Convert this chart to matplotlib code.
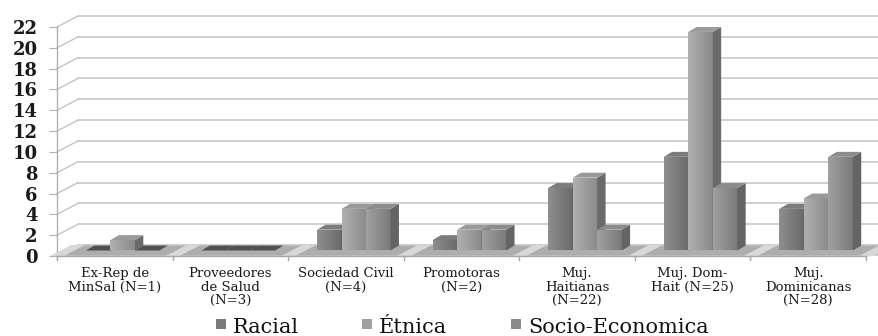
import numpy as np
import matplotlib
matplotlib.use("Agg")
import matplotlib.pyplot as plt
from matplotlib.patches import Polygon, Rectangle

categories = ["Ex-Rep de\nMinSal (N=1)", "Proveedores\nde Salud\n(N=3)",
              "Sociedad Civil\n(N=4)", "Promotoras\n(N=2)",
              "Muj.\nHaitianas\n(N=22)", "Muj. Dom-\nHait (N=25)",
              "Muj.\nDominicanas\n(N=28)"]
series = ["Racial", "Étnica", "Socio-Economica"]
racial = [0, 0, 2, 1, 6, 9, 4]
etnica = [1, 0, 4, 2, 7, 21, 5]
socio = [0, 0, 4, 2, 2, 6, 9]
values = [racial, etnica, socio]
yticks = list(range(0, 23, 2))

W, H = 879, 336
fig = plt.figure(figsize=(W / 100, H / 100), dpi=100)
ax = fig.add_axes([57 / W, 80 / H, 809 / W, 229 / H])
ncat = len(categories)
ax.set_xlim(0, ncat)
ax.set_ylim(0, 22)
for s in ax.spines.values():
    s.set_visible(False)

# depth of the chart in data units
pxx = 809 / ncat
pxy = 229 / 22
DX, DY = 21 / pxx, 11 / pxy

serif = "DejaVu Serif"

# back wall gridlines + side wall diagonals
for v in yticks:
    ax.plot([DX, ncat + DX + 1], [v + DY, v + DY], color="#c4c4c4", lw=1.1,
            clip_on=False, zorder=1)
    ax.plot([0, DX], [v, v + DY], color="#c4c4c4", lw=1.0, clip_on=False, zorder=1)

# front vertical axis line with ticks
ax.plot([0, 0], [0, 22], color="#b0b0b0", lw=1.0, clip_on=False, zorder=2)
ax.set_yticks(yticks)
ax.set_yticklabels([str(v) for v in yticks], fontfamily=serif, fontsize=13,
                   fontweight="bold", color="#1a1a1a")
ax.tick_params(axis="y", length=6, color="#b0b0b0", pad=8)
ax.set_xticks([])

# floor
floor = Polygon([(0, 0), (ncat, 0), (ncat + DX + 1, DY), (DX, DY)], closed=True,
                facecolor="#adadad", edgecolor="#cfcfcf", lw=0.8, clip_on=False, zorder=2)
ax.add_patch(floor)
for b in range(ncat + 1):
    stripe = Polygon([(b - 0.06, 0), (b + 0.06, 0), (b + 0.06 + DX, DY), (b - 0.06 + DX, DY)],
                     closed=True, facecolor="#d8d8d8", edgecolor="none", clip_on=False, zorder=2)
    ax.add_patch(stripe)
ax.plot([0, ncat], [0, 0], color="#a8a8a8", lw=1.0, clip_on=False, zorder=3)
for b in range(ncat + 1):
    ax.plot([b, b], [0, -0.35], color="#a8a8a8", lw=1.0, clip_on=False, zorder=3)

# bars
bw = 0.212
f0 = 0.5
bdx, bdy = 0.4 * DX, 0.45 * DY
front_cols = [("#8e8e8e", "#6a6a6a"), ("#b0b0b0", "#8a8a8a"), ("#a0a0a0", "#7a7a7a")]
side_cols = ["#5a5a5a", "#6a6a6a", "#646464"]
top_cols = ["#7c7c7c", "#9a9a9a", "#8c8c8c"]
grad = np.linspace(0, 1, 50).reshape(1, -1)
z = 5
for i in range(ncat):
    for j in range(len(series)):
        h = values[j][i]
        x0 = i + 0.25 + j * bw
        y0 = f0 * DY
        if h > 0:
            rect = Rectangle((x0, y0), bw, h, facecolor="none", edgecolor="none")
            ax.add_patch(rect)
            c1, c2 = front_cols[j]
            cmap = matplotlib.colors.LinearSegmentedColormap.from_list("g", [c1, c2])
            im = ax.imshow(grad, extent=[x0, x0 + bw, y0, y0 + h], aspect="auto",
                           cmap=cmap, zorder=z, clip_on=True)
            im.set_clip_path(rect)
            side = Polygon([(x0 + bw, y0), (x0 + bw + bdx, y0 + bdy),
                            (x0 + bw + bdx, y0 + h + bdy), (x0 + bw, y0 + h)],
                           closed=True, facecolor=side_cols[j], edgecolor="none", zorder=z)
            ax.add_patch(side)
            tc = top_cols[j]
        else:
            tc = "#505050"
        top = Polygon([(x0, y0 + h), (x0 + bw, y0 + h), (x0 + bw + bdx, y0 + h + bdy),
                       (x0 + bdx, y0 + h + bdy)], closed=True, facecolor=tc,
                      edgecolor="none", zorder=z)
        ax.add_patch(top)
        z += 1

ax.set_xlim(0, ncat)
ax.set_ylim(0, 22)

# category labels
for i, lab in enumerate(categories):
    ax.text(i + 0.5, -1.1, lab, ha="center", va="top", fontfamily=serif, fontsize=9.5,
            color="#1a1a1a", linespacing=1.05, clip_on=False)

# legend
leg_x = [216, 362, 511]
leg_cols = ["#7a7a7a", "#a0a0a0", "#8c8c8c"]
for j, name in enumerate(series):
    fig.patches.append(Rectangle((leg_x[j] / W, 7 / H), 10 / W, 10 / H, facecolor=leg_cols[j],
                                 edgecolor="none", transform=fig.transFigure, figure=fig))
    fig.text((leg_x[j] + 17) / W, 3 / H, name, fontfamily=serif, fontsize=15,
             color="#111111", va="baseline", ha="left")

fig.savefig("out.png", dpi=100)
